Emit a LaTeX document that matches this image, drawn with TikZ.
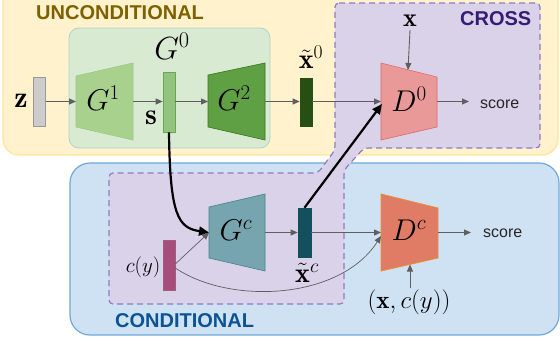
\RequirePackage{fix-cm}
\documentclass[tikz,border=0pt]{standalone}
\usepackage{fontspec}
\newfontfamily\lab{Liberation Sans}
\usetikzlibrary{arrows.meta}
\definecolor{ybg}{HTML}{FFF2CC}
\definecolor{ybd}{HTML}{FFE599}
\definecolor{bbg}{HTML}{CFE2F3}
\definecolor{bbd}{HTML}{6FA8DC}
\definecolor{gbg}{HTML}{D9EAD3}
\definecolor{gbd}{HTML}{B4D3C5}
\definecolor{pbg}{HTML}{D9D2E9}
\definecolor{pbd}{HTML}{8E7CC3}
\definecolor{gone}{HTML}{A9D18E}
\definecolor{goned}{HTML}{9CC88A}
\definecolor{sbar}{HTML}{93C47D}
\definecolor{sbard}{HTML}{6AA84F}
\definecolor{gtwo}{HTML}{5FA044}
\definecolor{gtwod}{HTML}{38761D}
\definecolor{xzero}{HTML}{274E13}
\definecolor{dzero}{HTML}{EA9999}
\definecolor{dzerod}{HTML}{E06666}
\definecolor{gc}{HTML}{76A5AF}
\definecolor{gcd}{HTML}{45818E}
\definecolor{xc}{HTML}{134F5C}
\definecolor{cy}{HTML}{A64D79}
\definecolor{cyd}{HTML}{741B47}
\definecolor{dc}{HTML}{E07B66}
\definecolor{dcd}{HTML}{E69138}
\definecolor{arrgray}{HTML}{5F5F5F}
\definecolor{tunc}{HTML}{7F6000}
\definecolor{tcross}{HTML}{351C75}
\definecolor{tcond}{HTML}{0B5394}
\tikzset{
  bar/.style={draw, line width=0.6pt, minimum width=12pt, inner sep=0pt},
  garr/.style={draw=arrgray, line width=0.9pt, -{Triangle[length=7pt,width=6pt]}},
  barr/.style={draw=black, line width=2.2pt, -{Triangle[length=10pt,width=9pt]}},
  mlab/.style={font=\fontsize{30}{36}\selectfont, inner sep=0pt},
  sans/.style={font=\lab\bfseries\fontsize{20}{24}\selectfont, inner sep=0pt, anchor=base west},
  scoretxt/.style={font=\lab\fontsize{16}{19}\selectfont, inner sep=0pt, anchor=base west, text=black!85},
}
\begin{document}
\begin{tikzpicture}[x=1pt,y=-1pt]
\useasboundingbox (0,0) rectangle (560,343);
\begin{scope}
\clip (0,0) rectangle (560,343);
% backgrounds
\draw[fill=ybg, draw=ybd, line width=1.2pt, rounded corners=16pt] (3,-20) rectangle (558,155);
\draw[fill=bbg, draw=bbd, line width=1.2pt, rounded corners=20pt] (70,163) rectangle (559,335);
\draw[fill=gbg, draw=gbd, line width=0.8pt, rounded corners=10pt] (69,28) rectangle (270,148);
\draw[fill=pbg, draw=pbd, line width=1.2pt, dash pattern=on 6pt off 4pt, rounded corners=4pt]
  (335,3) -- (540,3) -- (540,148) -- (364,148) -- (344,170) -- (344,304) -- (109,304)
  -- (109,173) -- (318,173) -- (335,150) -- cycle;
\end{scope}
% labels of regions
\node[sans, text=tunc] (tU) at (36,19) {UNCONDITIONAL};
\node[sans, text=tcross] (tX) at (460,25.5) {CROSS};
\node[sans, text=tcond] (tC) at (115,327) {CONDITIONAL};
% trapezoids
\draw[fill=gone, draw=goned, line width=0.6pt] (76,76) -- (133,63) -- (133,140) -- (76,127) -- cycle;
\draw[fill=gtwo, draw=gtwod, line width=0.6pt] (208,75) -- (265,63) -- (265,140) -- (208,127) -- cycle;
\draw[fill=dzero, draw=dzerod, line width=0.6pt] (381,63) -- (437,77) -- (437,127) -- (381,140) -- cycle;
\draw[fill=gc, draw=gcd, line width=0.6pt] (209,207) -- (265,194) -- (265,271) -- (209,258) -- cycle;
\draw[fill=dc, draw=dcd, line width=0.8pt] (381,194) -- (438,208) -- (438,258) -- (381,271) -- cycle;
\coordinate (G1w) at (76,101.5);
\coordinate (G1e) at (133,101.5);
\coordinate (G2w) at (208,101.5);
\coordinate (G2e) at (265,101.5);
\coordinate (D0w) at (381,101.5);
\coordinate (D0e) at (437,101.5);
\coordinate (D0n) at (408,70);
\coordinate (D0b) at (382,104);
\coordinate (Gcw) at (209,232.5);
\coordinate (Gce) at (265,232.5);
\coordinate (Dcw) at (381,232.5);
\coordinate (Dce) at (438,232.5);
\coordinate (Dcs) at (410,264.5);
\coordinate (Dcc) at (381,236);
\coordinate (s0a) at (469,101.5);
\coordinate (s1a) at (471,232.5);
% trapezoid labels
\node[mlab] (lG1) at (103,98) {$G^1$};
\node[mlab] (lG2) at (234,98) {$G^2$};
\node[mlab] (lD0) at (409,99) {$D^0$};
\node[mlab] (lGc) at (236,230) {$G^c$};
\node[mlab] (lDc) at (409,230) {$D^c$};
\node[mlab, font=\fontsize{32}{38}\selectfont] (lG0) at (172,46) {$G^0$};
% bars
\node[bar, fill=black!20, draw=black!40, minimum height=49pt] (zb) at (39.5,101.5) {};
\node[bar, fill=sbar, draw=sbard, minimum height=60pt] (sb) at (169,102) {};
\node[bar, fill=xzero, draw=xzero, minimum height=48pt] (x0b) at (306,102) {};
\node[bar, fill=xc, draw=xc, minimum width=13pt, minimum height=49pt] (xcb) at (304.5,232.5) {};
\node[bar, fill=cy, draw=cyd!70, minimum height=50pt] (cyb) at (169,265) {};
% bar labels
\node[mlab] (lz) at (21,101) {$\mathbf{z}$};
\node[mlab] (ls) at (151,118) {$\mathbf{s}$};
\node[mlab, font=\fontsize{28}{34}\selectfont] (lx0) at (311,57) {$\tilde{\mathbf{x}}^0$};
\node[mlab, font=\fontsize{28}{34}\selectfont] (lxc) at (307,273) {$\tilde{\mathbf{x}}^c$};
\node[mlab, font=\fontsize{21}{25}\selectfont] (lcy) at (143,267) {$c(y)$};
\node[mlab, font=\fontsize{26}{31}\selectfont] (lx) at (410,21) {$\mathbf{x}$};
\node[mlab, font=\fontsize{25}{30}\selectfont] (lxcy) at (409,302) {$(\mathbf{x},c(y))$};
\node[scoretxt] (sc0) at (480,108) {score};
\node[scoretxt] (sc1) at (483,237.5) {score};
% gray arrows
\draw[garr] (zb.east |- G1w) -- (G1w);
\draw[garr] (G1e) -- (sb.west |- G1e);
\draw[garr] (sb.east |- G2w) -- (G2w);
\draw[garr] (G2e) -- (x0b.west |- G2e);
\draw[garr] (x0b.east |- D0w) -- (D0w);
\draw[garr] (D0e) -- (s0a);
\draw[garr] (lx.south |- 0,30) -- (D0n);
\draw[garr] (Gce) -- (xcb.west |- Gce);
\draw[garr] (xcb.east |- Dcw) -- (Dcw);
\draw[garr] (Dce) -- (s1a);
\draw[garr] (Dcs |- 0,288) -- (Dcs);
\draw[garr, line width=0.7pt] (cyb.east |- 0,264) -- (Gcw);
\draw[garr, line width=0.7pt] (cyb.east |- 0,268) .. controls (230,305) and (340,300) .. (Dcc);
% thick black arrows
\draw[barr] (sb.south) .. controls (170,215) and (178,228) .. (Gcw);
\draw[barr] (xcb.north) -- (D0b);
\end{tikzpicture}
\end{document}
